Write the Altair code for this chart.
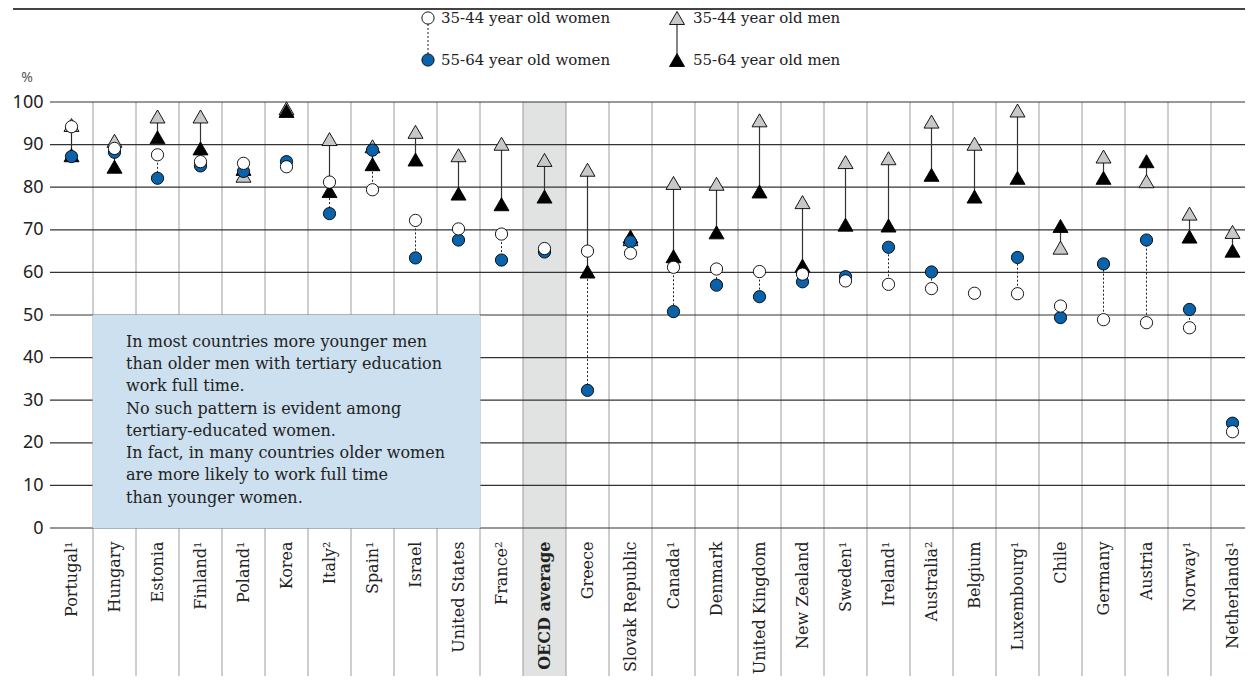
import altair as alt
import pandas as pd

countries = ["Portugal¹", "Hungary", "Estonia", "Finland¹", "Poland¹", "Korea", "Italy²",
             "Spain¹", "Israel", "United States", "France²", "OECD average", "Greece",
             "Slovak Republic", "Canada¹", "Denmark", "United Kingdom", "New Zealand",
             "Sweden¹", "Ireland¹", "Australia²", "Belgium", "Luxembourg¹", "Chile",
             "Germany", "Austria", "Norway¹", "Netherlands¹"]

women_35_44 = [94.2, 89.1, 87.6, 86.0, 85.6, 84.8, 81.2, 79.4, 72.2, 70.2, 69.0, 65.6, 65.0,
               64.5, 61.2, 60.8, 60.2, 59.6, 58.0, 57.2, 56.2, 55.1, 55.0, 52.1, 48.9, 48.2,
               47.0, 22.6]
women_55_64 = [87.2, 88.2, 82.1, 85.0, 83.7, 86.0, 73.8, 88.7, 63.4, 67.6, 62.9, 64.8, 32.3,
               67.2, 50.8, 57.0, 54.3, 57.8, 59.0, 65.9, 60.1, None, 63.5, 49.4, 62.0, 67.6,
               51.3, 24.6]
men_35_44 = [94.6, 90.9, 96.6, 96.6, 82.7, 98.5, 91.3, 89.6, 93.0, 87.5, 90.2, 86.4, 84.1,
             67.8, 81.0, 80.8, 95.7, 76.5, 85.9, 86.8, 95.4, 90.2, 98.0, 65.8, 87.2, 81.4,
             73.8, 69.5]
men_55_64 = [87.5, 84.8, 91.7, 89.1, 84.3, 97.9, 79.1, 85.4, 86.5, 78.5, 76.0, 77.8, 60.2,
             68.4, 63.8, 69.4, 79.0, 61.6, 71.2, 71.0, 82.9, 77.8, 82.2, 70.9, 82.2, 86.1,
             68.4, 65.1]

y_ticks = [0, 10, 20, 30, 40, 50, 60, 70, 80, 90, 100]
highlight = ["OECD average"]
note_countries = countries[1:10]
note_lines = ["In most countries more younger men",
              "than older men with tertiary education",
              "work full time.",
              "No such pattern is evident among",
              "tertiary-educated women.",
              "In fact, in many countries older women",
              "are more likely to work full time",
              "than younger women."]
legend_labels = ["35-44 year old women", "55-64 year old women",
                 "35-44 year old men", "55-64 year old men"]

BLUE = "#0a62aa"
PLOT_W = 1204
H = 426
DOWN = H + 160

df = pd.DataFrame({"country": countries, "wy": women_35_44, "wo": women_55_64,
                   "my": men_35_44, "mo": men_55_64})

xs = alt.Scale(domain=countries, range=[0, PLOT_W], paddingInner=0, paddingOuter=0)
ys = alt.Scale(domain=[0, 100], nice=False)

xaxis = alt.Axis(title=None, labelAngle=-90, labelAlign="right", labelBaseline="middle",
                 labelPadding=13, ticks=False, domain=False, grid=False,
                 labelFont="DejaVu Serif", labelFontSize=16, labelColor="#222222",
                 labelLimit=200,
                 labelFontWeight={"condition": {"test": "datum.value === 'OECD average'",
                                                "value": "bold"}, "value": "normal"})
yaxis = alt.Axis(values=y_ticks, grid=False, domain=False, ticks=False,
                 labelFont="Noto Sans", labelFontSize=18, labelColor="#222222",
                 labelPadding=7, title=None)


def X(**kw):
    return alt.X("country:N", scale=xs, axis=xaxis, **kw)


def Y(field):
    return alt.Y(field, scale=ys, axis=yaxis)


one = pd.DataFrame({"k": [0]})

oecd = alt.Chart(pd.DataFrame({"country": highlight})).mark_rect(color="#e1e2e2").encode(
    x=X(), y=alt.value(0), y2=alt.value(DOWN))

vlines = alt.Chart(pd.DataFrame({"country": countries[1:]})).mark_rule(
    color="#9c9c9c", strokeWidth=1).encode(x=X(bandPosition=0), y=alt.value(0), y2=alt.value(DOWN))

hlines = alt.Chart(pd.DataFrame({"v": y_ticks})).mark_rule(color="#333333", strokeWidth=1.2).encode(
    y=Y("v:Q"), x=alt.value(0), x2=alt.value(PLOT_W + 20))

box = alt.Chart(pd.DataFrame({"country": note_countries})).mark_rect(
    color="#cde0ef", stroke="#cde0ef", strokeWidth=0.8).encode(
    x=X(), y=alt.Y(datum=0, scale=ys, axis=yaxis), y2=alt.Y2(datum=50))

note = alt.Chart(one).mark_text(align="left", baseline="alphabetic", font="DejaVu Serif",
                                fontSize=16, lineHeight=22.3, color="#222222").encode(
    x=alt.value(76), y=alt.value(244.7), text=alt.value(note_lines))

men_line = alt.Chart(df).mark_rule(color="#333333", strokeWidth=1.2).encode(
    x=X(), y=Y("my:Q"), y2="mo:Q")

women_line = alt.Chart(df).transform_filter("isValid(datum.wo)").mark_rule(
    color="#222222", strokeWidth=1, strokeDash=[2, 2]).encode(
    x=X(), y=Y("wy:Q"), y2="wo:Q")

tri_kw = dict(shape="triangle-up", size=225, filled=True, opacity=1, stroke="#000000", strokeWidth=0.9)
circ_kw = dict(shape="circle", size=150, filled=True, opacity=1, stroke="#000000", strokeWidth=0.9)

men_young_pts = alt.Chart(df).mark_point(fill="#c8c8c8", **tri_kw).encode(x=X(), y=Y("my:Q"))
men_old_pts = alt.Chart(df).mark_point(fill="#000000", **tri_kw).encode(x=X(), y=Y("mo:Q"))
women_old_pts = alt.Chart(df).mark_point(fill=BLUE, **circ_kw).encode(x=X(), y=Y("wo:Q"))
women_young_pts = alt.Chart(df).mark_point(fill="#ffffff", **circ_kw).encode(x=X(), y=Y("wy:Q"))

# decorations: top rule, % label, legend
top_rule = alt.Chart(one).mark_rule(color="#444444", strokeWidth=2).encode(
    x=alt.value(-37), x2=alt.value(PLOT_W + 20), y=alt.value(-93))
pct = alt.Chart(one).mark_text(font="Noto Sans", fontSize=14, color="#555555").encode(
    x=alt.value(-23), y=alt.value(-24), text=alt.value("%"))

LW_X, LM_X = 378, 627
LY1, LY2 = -84, -42
leg_w_line = alt.Chart(one).mark_rule(color="#222222", strokeWidth=1, strokeDash=[2, 2]).encode(
    x=alt.value(LW_X), y=alt.value(LY1 + 6), y2=alt.value(LY2 - 6))
leg_m_line = alt.Chart(one).mark_rule(color="#333333", strokeWidth=1.2).encode(
    x=alt.value(LM_X), y=alt.value(LY1 + 6), y2=alt.value(LY2 - 6))
leg_w1 = alt.Chart(one).mark_point(fill="#ffffff", **circ_kw).encode(x=alt.value(LW_X), y=alt.value(LY1))
leg_w2 = alt.Chart(one).mark_point(fill=BLUE, **circ_kw).encode(x=alt.value(LW_X), y=alt.value(LY2))
leg_m1 = alt.Chart(one).mark_point(fill="#c8c8c8", **tri_kw).encode(x=alt.value(LM_X), y=alt.value(LY1))
leg_m2 = alt.Chart(one).mark_point(fill="#000000", **tri_kw).encode(x=alt.value(LM_X), y=alt.value(LY2))
leg_txt_kw = dict(align="left", baseline="middle", font="DejaVu Serif", fontSize=15, color="#222222")
leg_t = [
    alt.Chart(one).mark_text(**leg_txt_kw).encode(x=alt.value(LW_X + 13), y=alt.value(LY1), text=alt.value(legend_labels[0])),
    alt.Chart(one).mark_text(**leg_txt_kw).encode(x=alt.value(LW_X + 13), y=alt.value(LY2), text=alt.value(legend_labels[1])),
    alt.Chart(one).mark_text(**leg_txt_kw).encode(x=alt.value(LM_X + 16), y=alt.value(LY1), text=alt.value(legend_labels[2])),
    alt.Chart(one).mark_text(**leg_txt_kw).encode(x=alt.value(LM_X + 16), y=alt.value(LY2), text=alt.value(legend_labels[3])),
]

chart = alt.layer(
    oecd, vlines, hlines, box, note, men_line, women_line,
    men_young_pts, men_old_pts, women_old_pts, women_young_pts,
    top_rule, pct, leg_w_line, leg_m_line, leg_w1, leg_w2, leg_m1, leg_m2, *leg_t
).properties(
    width=1195, height=H,
    autosize=alt.AutoSizeParams(type="none"),
    padding={"left": 42, "top": 94, "right": 0, "bottom": 148},
    background="#ffffff",
).configure_view(stroke=None)

chart.save("out.html", embed_options={"renderer": "svg", "actions": False})
